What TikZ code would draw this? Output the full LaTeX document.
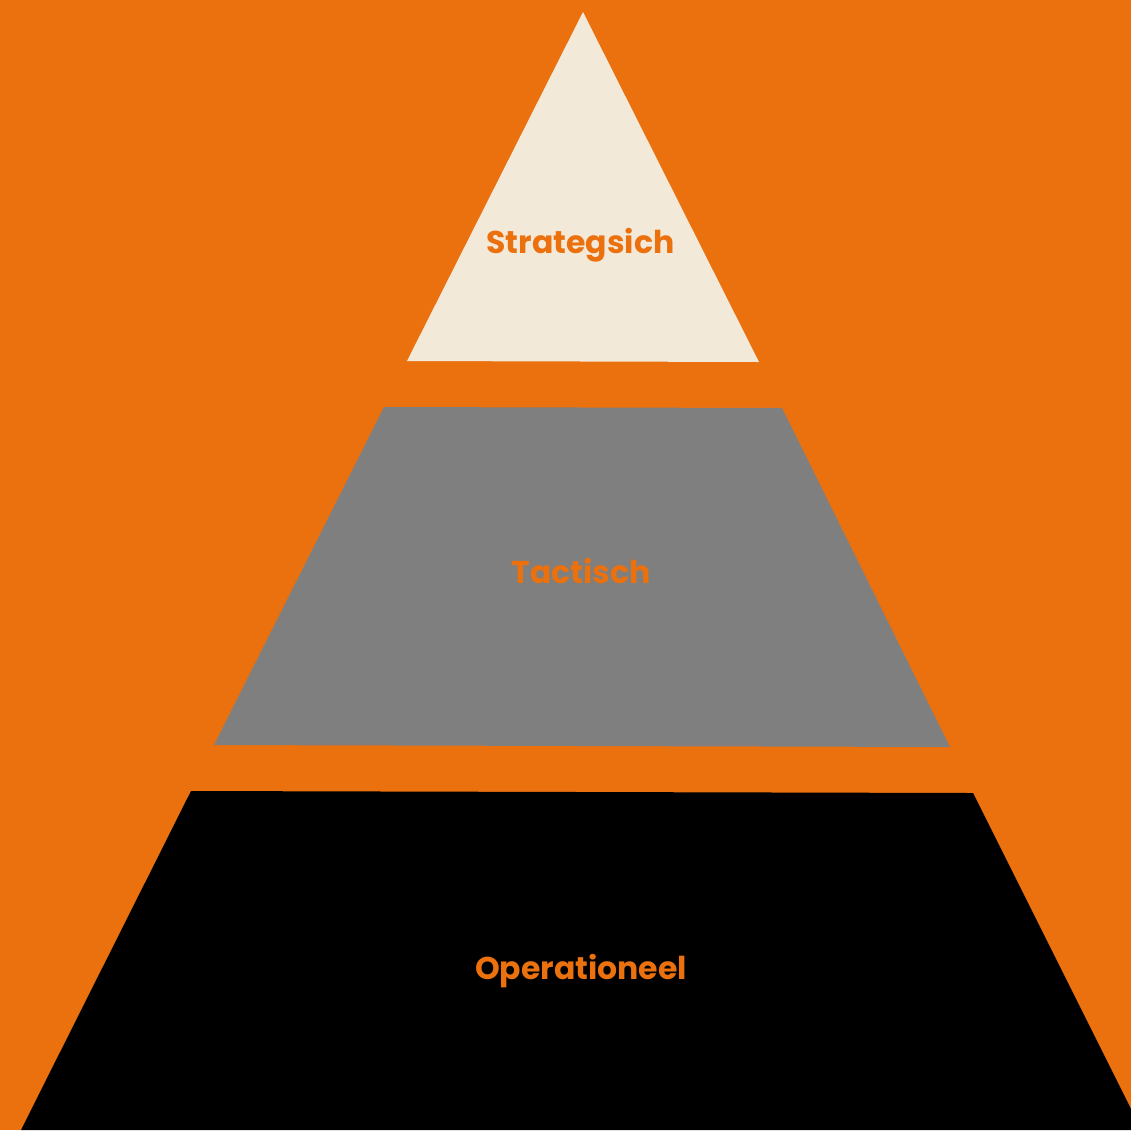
\documentclass[tikz,border=0pt]{standalone}
\usepackage{fontspec}
\setmainfont{Poppins}
\definecolor{bgorange}{RGB}{235,112,14}
\definecolor{cream}{RGB}{243,233,217}
\definecolor{midgray}{RGB}{127,127,127}
\begin{document}
\begin{tikzpicture}[x=1pt,y=-1pt,
  lbl/.style={font=\bfseries\fontsize{31.5}{36}\selectfont, text=bgorange, inner sep=0pt, anchor=base}]
\fill[bgorange] (0,0) rectangle (1131,1130);
\useasboundingbox (0,0) rectangle (1131,1130);
% top triangle
\fill[cream] (583,12) -- (759,362) -- (407,361) -- cycle;
% middle trapezoid
\fill[midgray] (384,407) -- (782,408) -- (950,747) -- (214,745) -- cycle;
% bottom trapezoid
\fill[black] (191,791) -- (973,793) -- (1131,1109) -- (1131,1130) -- (21,1130) -- cycle;
\node[lbl] (s) at (580.5,253) {Strategsich};
\node[lbl] (t) at (581,583) {Tactisch};
\node[lbl] (o) at (581,979) {Operationeel};
\end{tikzpicture}
\end{document}
